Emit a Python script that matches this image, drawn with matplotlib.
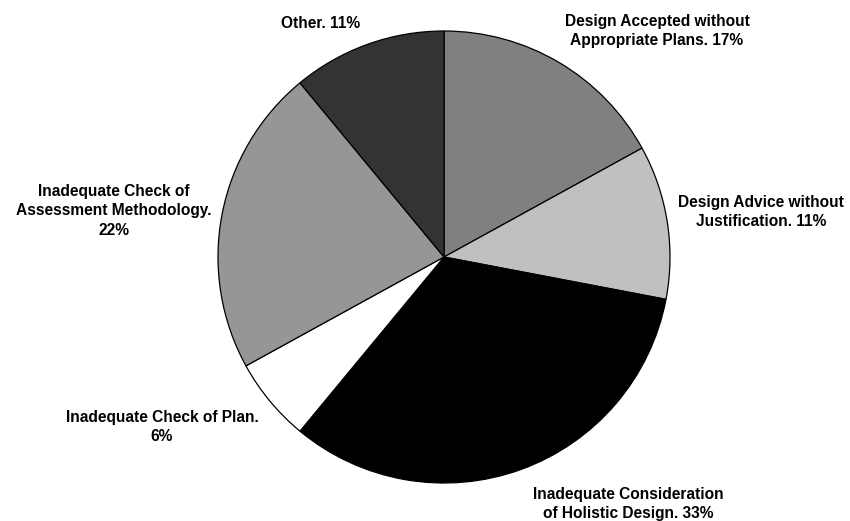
import matplotlib.pyplot as plt

# --- data ---
labels = ['Design Accepted without\nAppropriate Plans. 17%',
          'Design Advice without\nJustification. 11%',
          'Inadequate Consideration\nof Holistic Design. 33%',
          'Inadequate Check of Plan.\n6%',
          'Inadequate Check of\nAssessment Methodology.\n22%',
          'Other. 11%']
shares = [17, 11, 33, 6, 22, 11]
colors = ['#808080', '#c0c0c0', '#000000', '#ffffff', '#969696', '#333333']

# label anchor points in pixel coords (x, y from top)
label_pos = [(657, 31), (761, 212), (628, 504), (162, 427), (114, 211), (321, 23)]

W, H = 850, 521
fig = plt.figure(figsize=(8.5, 5.21), dpi=100)
ax = fig.add_axes([0, 0, 1, 1])

ax.pie(shares, colors=colors, startangle=90, counterclock=False,
       center=(444, H - 257), radius=226, frame=True,
       wedgeprops=dict(edgecolor='black', linewidth=0.9))
ax.set_xlim(0, W)
ax.set_ylim(0, H)
ax.set_aspect('equal')
ax.axis('off')

for txt, (x, y) in zip(labels, label_pos):
    ax.text(x, H - y, txt, ha='center', va='center', multialignment='center',
            fontsize=11.2, fontweight='bold', family=['Liberation Sans', 'DejaVu Sans'],
            linespacing=1.4)

fig.savefig('out.png', dpi=100)
